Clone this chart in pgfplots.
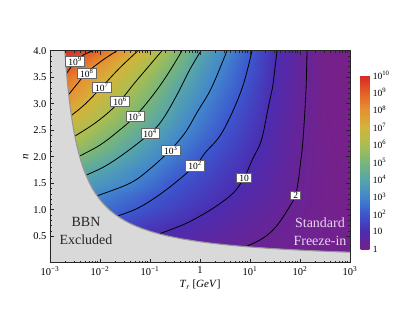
\documentclass[border=0pt]{standalone}
\usepackage{pgfplots}
\pgfplotsset{compat=1.18}
\usepackage{fontspec}
\setmainfont{Liberation Serif}
\definecolor{bbn}{RGB}{217,217,217}
\definecolor{bbnedge}{RGB}{150,150,150}
\definecolor{sfcol}{RGB}{232,212,238}
\tikzset{
  clabel/.style={fill=white, draw=black!60, line width=0.45pt, inner xsep=2.6pt, inner ysep=1pt,
    font=\fontsize{9.5}{10}\selectfont},
}
\pgfplotsset{
  cline/.style={black, line width=0.8pt, smooth, tension=0.6},
}
\begin{document}
\begin{tikzpicture}
\path[use as bounding box] (0,0) rectangle (401pt,314pt);
\begin{axis}[
  at={(50pt,51.3pt)}, anchor=south west,
  scale only axis, width=300pt, height=212pt,
  xmode=log, xmin=1e-3, xmax=1e3, ymin=0, ymax=4,
  axis on top,
  axis line style={black!85, line width=0.6pt},
  tick pos=both, tick align=inside,
  major tick length=4pt, minor tick length=2.2pt,
  every tick/.style={black!85, line width=0.5pt},
  xtick={1e-3,1e-2,1e-1,1,10,100,1000},
  xticklabels={10\textsuperscript{−3},10\textsuperscript{−2},10\textsuperscript{−1},1,10\textsuperscript{1},10\textsuperscript{2},10\textsuperscript{3}},
  minor xtick={0.002,0.003,0.004,0.005,0.006,0.007,0.008,0.009,
    0.02,0.03,0.04,0.05,0.06,0.07,0.08,0.09,
    0.2,0.3,0.4,0.5,0.6,0.7,0.8,0.9,
    2,3,4,5,6,7,8,9,20,30,40,50,60,70,80,90,200,300,400,500,600,700,800,900},
  ytick={0.5,1,1.5,2,2.5,3,3.5,4},
  minor y tick num=4,
  yticklabel style={/pgf/number format/.cd, fixed, fixed zerofill, precision=1, assume math mode=true},
  tick label style={font=\fontsize{10.5}{12}\selectfont},
  xlabel={\textit{T}\textsubscript{\textit{r}} [\textit{GeV}]},
  ylabel={\textit{n}},
  label style={font=\fontsize{11}{12}\selectfont},
  xlabel style={yshift=2pt},
  ylabel style={yshift=-2pt},
  colormap={rainbowmm}{rgb255=(118,32,138) rgb255=(76,44,176) rgb255=(60,86,206) rgb255=(66,134,205) rgb255=(86,165,170) rgb255=(122,182,120) rgb255=(170,190,80) rgb255=(210,180,60) rgb255=(230,145,50) rgb255=(228,95,40) rgb255=(216,38,34)},
  point meta min=0, point meta max=10,
  colorbar,
  colorbar style={
    at={(1.0357,0.0645)}, anchor=south west,
    scale only axis, width=8.6pt, height=174pt,
    ytick={0,1,2,3,4,5,6,7,8,9,10},
    yticklabels={1,10,10\textsuperscript{2},10\textsuperscript{3},10\textsuperscript{4},10\textsuperscript{5},10\textsuperscript{6},10\textsuperscript{7},10\textsuperscript{8},10\textsuperscript{9},10\textsuperscript{10}},
    major tick length=0pt, minor tick num=0,
    axis line style={draw=none},
    yticklabel style={font=\fontsize{9.5}{10}\selectfont},
  },
]
% colour field: log10 of the enhancement, rows of constant n, columns of log10 T_r
\addplot[surf, shader=interp, mesh/cols=13, point meta=explicit]
  table[x expr=10^(\thisrow{lt}), y=n, meta=lf, row sep=\\] {
lt n lf\\
-3 0 0.6\\ -2.5 0 0.56\\ -2 0 0.52\\ -1.5 0 0.48\\ -1 0 0.44\\ -0.5 0 0.40\\ 0 0 0.36\\ 0.5 0 0.31\\ 1 0 0.26\\ 1.5 0 0.21\\ 2 0 0.17\\ 2.5 0 0.14\\ 3 0 0.11\\
-3 0.25 0.6\\ -2.5 0.25 0.56\\ -2 0.25 0.52\\ -1.5 0.25 0.48\\ -1 0.25 0.44\\ -0.5 0.25 0.40\\ 0 0.25 0.36\\ 0.5 0.25 0.31\\ 1 0.25 0.26\\ 1.5 0.25 0.21\\ 2 0.25 0.17\\ 2.5 0.25 0.14\\ 3 0.25 0.11\\
-3 0.5 1.4\\ -2.5 0.5 1.3\\ -2 0.5 1.2\\ -1.5 0.5 1.1\\ -1 0.5 1.0\\ -0.5 0.5 0.86\\ 0 0.5 0.71\\ 0.5 0.5 0.55\\ 1 0.5 0.40\\ 1.5 0.5 0.27\\ 2 0.5 0.19\\ 2.5 0.5 0.12\\ 3 0.5 0.08\\
-3 0.75 2.3\\ -2.5 0.75 2.1\\ -2 0.75 1.9\\ -1.5 0.75 1.7\\ -1 0.75 1.37\\ -0.5 0.75 1.12\\ 0 0.75 0.90\\ 0.5 0.75 0.71\\ 1 0.75 0.52\\ 1.5 0.75 0.33\\ 2 0.75 0.20\\ 2.5 0.75 0.11\\ 3 0.75 0.05\\
-3 1 3.2\\ -2.5 1 2.85\\ -2 1 2.5\\ -1.5 1 2.14\\ -1 1 1.80\\ -0.5 1 1.47\\ 0 1 1.14\\ 0.5 1 0.87\\ 1 1 0.64\\ 1.5 1 0.42\\ 2 1 0.22\\ 2.5 1 0.10\\ 3 1 0.035\\
-3 1.25 3.6\\ -2.5 1.25 3.3\\ -2 1.25 2.94\\ -1.5 1.25 2.53\\ -1 1.25 2.11\\ -0.5 1.25 1.74\\ 0 1.25 1.40\\ 0.5 1.25 1.06\\ 1 1.25 0.78\\ 1.5 1.25 0.51\\ 2 1.25 0.26\\ 2.5 1.25 0.09\\ 3 1.25 0.026\\
-3 1.5 4.2\\ -2.5 1.5 3.85\\ -2 1.5 3.47\\ -1.5 1.5 3.10\\ -1 1.5 2.56\\ -0.5 1.5 1.98\\ 0 1.5 1.60\\ 0.5 1.5 1.23\\ 1 1.5 0.88\\ 1.5 1.5 0.58\\ 2 1.5 0.28\\ 2.5 1.5 0.08\\ 3 1.5 0.017\\
-3 1.75 4.9\\ -2.5 1.75 4.42\\ -2 1.75 3.92\\ -1.5 1.75 3.43\\ -1 1.75 2.93\\ -0.5 1.75 2.33\\ 0 1.75 1.81\\ 0.5 1.75 1.39\\ 1 1.75 0.97\\ 1.5 1.75 0.63\\ 2 1.75 0.30\\ 2.5 1.75 0.07\\ 3 1.75 0.01\\
-3 2 5.7\\ -2.5 2 5.1\\ -2 2 4.5\\ -1.5 2 3.9\\ -1 2 3.3\\ -0.5 2 2.68\\ 0 2 2.05\\ 0.5 2 1.56\\ 1 2 1.08\\ 1.5 2 0.69\\ 2 2 0.32\\ 2.5 2 0.065\\ 3 2 0.007\\
-3 2.25 6.6\\ -2.5 2.25 5.87\\ -2 2.25 5.12\\ -1.5 2.25 4.37\\ -1 2.25 3.68\\ -0.5 2.25 3.03\\ 0 2.25 2.36\\ 0.5 2.25 1.75\\ 1 2.25 1.22\\ 1.5 2.25 0.75\\ 2 2.25 0.34\\ 2.5 2.25 0.055\\ 3 2.25 0.005\\
-3 2.5 7.13\\ -2.5 2.5 6.38\\ -2 2.5 5.62\\ -1.5 2.5 4.85\\ -1 2.5 4.08\\ -0.5 2.5 3.34\\ 0 2.5 2.64\\ 0.5 2.5 1.96\\ 1 2.5 1.34\\ 1.5 2.5 0.80\\ 2 2.5 0.36\\ 2.5 2.5 0.048\\ 3 2.5 0.003\\
-3 2.75 7.75\\ -2.5 2.75 6.95\\ -2 2.75 6.15\\ -1.5 2.75 5.32\\ -1 2.75 4.47\\ -0.5 2.75 3.63\\ 0 2.75 2.84\\ 0.5 2.75 2.13\\ 1 2.75 1.45\\ 1.5 2.75 0.84\\ 2 2.75 0.38\\ 2.5 2.75 0.043\\ 3 2.75 0.002\\
-3 3 8.17\\ -2.5 3 7.37\\ -2 3 6.56\\ -1.5 3 5.74\\ -1 3 4.84\\ -0.5 3 3.86\\ 0 3 3.06\\ 0.5 3 2.31\\ 1 3 1.57\\ 1.5 3 0.88\\ 2 3 0.40\\ 2.5 3 0.038\\ 3 3 0.001\\
-3 3.25 8.8\\ -2.5 3.25 7.89\\ -2 3.25 6.97\\ -1.5 3.25 6.12\\ -1 3.25 5.23\\ -0.5 3.25 4.14\\ 0 3.25 3.31\\ 0.5 3.25 2.52\\ 1 3.25 1.72\\ 1.5 3.25 0.93\\ 2 3.25 0.42\\ 2.5 3.25 0.036\\ 3 3.25 0\\
-3 3.5 9.2\\ -2.5 3.5 8.29\\ -2 3.5 7.39\\ -1.5 3.5 6.51\\ -1 3.5 5.60\\ -0.5 3.5 4.50\\ 0 3.5 3.51\\ 0.5 3.5 2.69\\ 1 3.5 1.82\\ 1.5 3.5 0.97\\ 2 3.5 0.43\\ 2.5 3.5 0.029\\ 3 3.5 0\\
-3 3.75 9.9\\ -2.5 3.75 8.94\\ -2 3.75 7.92\\ -1.5 3.75 6.96\\ -1 3.75 6.02\\ -0.5 3.75 4.95\\ 0 3.75 3.75\\ 0.5 3.75 2.87\\ 1 3.75 1.94\\ 1.5 3.75 1.01\\ 2 3.75 0.45\\ 2.5 3.75 0.026\\ 3 3.75 0\\
-3 4 10\\ -2.5 4 9.76\\ -2 4 8.71\\ -1.5 4 7.62\\ -1 4 6.5\\ -0.5 4 5.35\\ 0 4 4.05\\ 0.5 4 3.08\\ 1 4 2.08\\ 1.5 4 1.08\\ 2 4 0.46\\ 2.5 4 0.022\\ 3 4 0\\
};
% contour lines (log10 T_r, n)
\addplot[cline] table[x expr=10^(\thisrow{lt}), y=n, row sep=\\] {lt n\\ -2.74 3.48\\ -2.67 3.57\\ -2.5 3.79\\ -2.33 3.92\\ -2.14 4.0\\};
\addplot[cline] table[x expr=10^(\thisrow{lt}), y=n, row sep=\\] {lt n\\ -2.72 3.08\\ -2.63 3.17\\ -2.45 3.38\\ -2.27 3.58\\ -1.98 3.80\\ -1.66 4.0\\};
\addplot[cline] table[x expr=10^(\thisrow{lt}), y=n, row sep=\\] {lt n\\ -2.66 2.71\\ -2.57 2.78\\ -2.3 2.99\\ -1.97 3.31\\ -1.6 3.68\\ -1.24 4.0\\};
\addplot[cline] table[x expr=10^(\thisrow{lt}), y=n, row sep=\\] {lt n\\ -2.6 2.33\\ -2.5 2.39\\ -2.15 2.6\\ -1.85 2.82\\ -1.6 3.05\\ -1.3 3.4\\ -1.03 3.7\\ -0.76 4.0\\};
\addplot[cline] table[x expr=10^(\thisrow{lt}), y=n, row sep=\\] {lt n\\ -2.52 1.95\\ -2.41 2.01\\ -2.0 2.22\\ -1.65 2.47\\ -1.3 2.76\\ -0.95 3.15\\ -0.65 3.55\\ -0.36 4.0\\};
\addplot[cline] table[x expr=10^(\thisrow{lt}), y=n, row sep=\\] {lt n\\ -2.4 1.6\\ -2.28 1.65\\ -1.9 1.82\\ -1.5 2.07\\ -1.0 2.44\\ -0.75 2.7\\ -0.47 3.15\\ -0.2 3.65\\ 0.02 4.0\\};
\addplot[cline] table[x expr=10^(\thisrow{lt}), y=n, row sep=\\] {lt n\\ -2.18 1.21\\ -2.06 1.26\\ -1.4 1.5\\ -1.0 1.77\\ -0.6 2.12\\ -0.3 2.45\\ -0.05 2.85\\ 0.23 3.3\\ 0.54 4.0\\};
\addplot[cline] table[x expr=10^(\thisrow{lt}), y=n, row sep=\\] {lt n\\ -1.78 0.84\\ -1.65 0.88\\ -1.2 1.05\\ -0.67 1.38\\ -0.1 1.83\\ 0.1 2.07\\ 0.45 2.47\\ 0.83 3.26\\ 1.04 4.0\\};
\addplot[cline] table[x expr=10^(\thisrow{lt}), y=n, row sep=\\] {lt n\\ -0.95 0.52\\ -0.8 0.55\\ -0.33 0.72\\ 0.0 0.88\\ 0.33 1.07\\ 0.67 1.32\\ 0.88 1.6\\ 1.05 1.95\\ 1.23 2.32\\ 1.37 2.95\\ 1.45 3.3\\ 1.54 4.0\\};
\addplot[cline] table[x expr=10^(\thisrow{lt}), y=n, row sep=\\] {lt n\\ 0.75 0.27\\ 0.93 0.31\\ 1.27 0.47\\ 1.53 0.69\\ 1.8 1.07\\ 1.91 1.27\\ 1.97 1.57\\ 2.0 1.8\\ 2.06 2.32\\ 2.12 3.26\\ 2.14 4.0\\};
% BBN excluded region
\addplot[fill=bbn, draw=none] table[x expr=10^(\thisrow{lt}), y=n, row sep=\\] {lt n\\
-3 0\\ 3 0\\ 3.0 0.198\\ 2.655 0.21\\ 2.398 0.22\\ 2.163 0.23\\ 1.75 0.25\\ 1.567 0.26\\ 1.318 0.275\\ 0.958 0.3\\ 0.711 0.32\\ 0.393 0.35\\ 0.125 0.38\\ -0.031 0.4\\ -0.361 0.45\\ -0.625 0.5\\ -0.841 0.55\\ -1.021 0.6\\ -1.173 0.65\\ -1.304 0.7\\ -1.417 0.75\\ -1.516 0.8\\ -1.681 0.9\\ -1.8125 1.0\\ -1.92 1.1\\ -2.01 1.2\\ -2.12 1.35\\ -2.208 1.5\\ -2.321 1.75\\ -2.406 2.0\\ -2.472 2.25\\ -2.525 2.5\\ -2.568 2.75\\ -2.604 3.0\\ -2.635 3.25\\ -2.661 3.5\\ -2.683 3.75\\ -2.703 4.0\\ -3 4\\} -- cycle;
\addplot[bbnedge, line width=1.1pt, smooth] table[x expr=10^(\thisrow{lt}), y=n, row sep=\\] {lt n\\
3.0 0.198\\ 2.655 0.21\\ 2.398 0.22\\ 2.163 0.23\\ 1.75 0.25\\ 1.567 0.26\\ 1.318 0.275\\ 0.958 0.3\\ 0.711 0.32\\ 0.393 0.35\\ 0.125 0.38\\ -0.031 0.4\\ -0.361 0.45\\ -0.625 0.5\\ -0.841 0.55\\ -1.021 0.6\\ -1.173 0.65\\ -1.304 0.7\\ -1.417 0.75\\ -1.516 0.8\\ -1.681 0.9\\ -1.8125 1.0\\ -1.92 1.1\\ -2.01 1.2\\ -2.12 1.35\\ -2.208 1.5\\ -2.321 1.75\\ -2.406 2.0\\ -2.472 2.25\\ -2.525 2.5\\ -2.568 2.75\\ -2.604 3.0\\ -2.635 3.25\\ -2.661 3.5\\ -2.683 3.75\\ -2.703 4.0\\};
% region texts
\node[align=center, font=\fontsize{14}{18}\selectfont, text=black!85] at (axis cs:0.00525,0.59) {BBN\\Excluded};
\node[align=center, font=\fontsize{14}{18}\selectfont, text=sfcol] at (axis cs:251,0.59) {Standard\\Freeze-in};
% contour labels
\node[clabel] at (axis cs:0.00316,3.80) {10\textsuperscript{9}};
\node[clabel] at (axis cs:0.00542,3.58) {10\textsuperscript{8}};
\node[clabel] at (axis cs:0.0108,3.31) {10\textsuperscript{7}};
\node[clabel] at (axis cs:0.0251,3.05) {10\textsuperscript{6}};
\node[clabel] at (axis cs:0.0501,2.76) {10\textsuperscript{5}};
\node[clabel] at (axis cs:0.1,2.44) {10\textsuperscript{4}};
\node[clabel] at (axis cs:0.259,2.12) {10\textsuperscript{3}};
\node[clabel] at (axis cs:0.794,1.83) {10\textsuperscript{2}};
\node[clabel] at (axis cs:7.59,1.60) {10};
\node[clabel] at (axis cs:82.0,1.27) {2};
\end{axis}
\end{tikzpicture}
\end{document}
